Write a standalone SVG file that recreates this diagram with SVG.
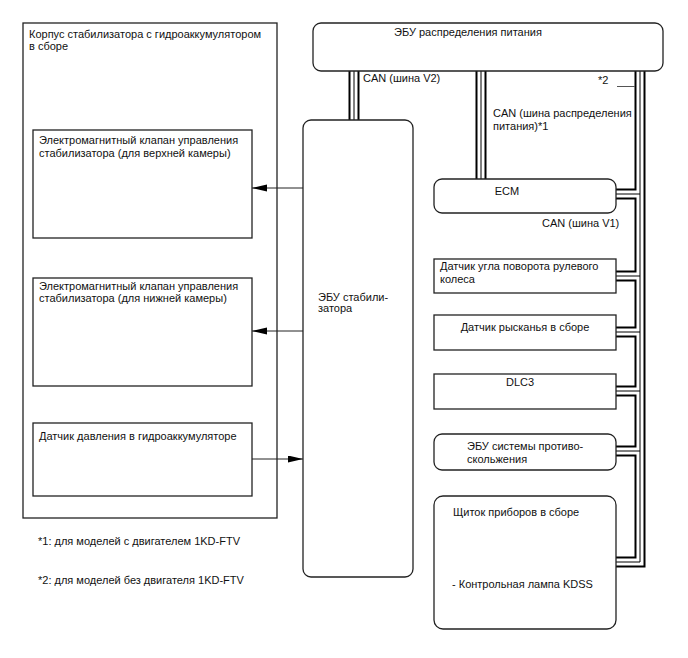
<svg xmlns="http://www.w3.org/2000/svg" width="688" height="658" viewBox="0 0 688 658">
<style>
text{font-family:"Liberation Sans",Arial,sans-serif;font-size:11px;fill:#111}
.box{fill:#fff;stroke:#222;stroke-width:1.3}
.c1{fill:none;stroke:#000;stroke-width:11;stroke-linejoin:miter}
.c2{fill:none;stroke:#fff;stroke-width:7;stroke-linejoin:miter}
.c3{fill:none;stroke:#000;stroke-width:1;stroke-linejoin:miter}
.ar{fill:none;stroke:#222;stroke-width:1}
.mid{text-anchor:middle}
</style>
<defs>
<marker id="ah" markerUnits="userSpaceOnUse" markerWidth="16" markerHeight="8" refX="15" refY="3.5" orient="auto">
<path d="M0,0 L15,3.5 L0,7 z" fill="#000"/>
</marker>
<path id="cv2" d="M354,71 V120"/>
<path id="cpd" d="M481,71 V179"/>
<path id="ctr" d="M640,71 V562 H616"/>
<path id="cb1" d="M616,194 H640"/>
<path id="cb2" d="M616,276 H640"/>
<path id="cb3" d="M616,332 H640"/>
<path id="cb4" d="M616,391 H640"/>
<path id="cb5" d="M616,451 H640"/>
</defs>

<g id="connectors">
<use href="#cv2" class="c1"/><use href="#cpd" class="c1"/><use href="#ctr" class="c1"/>
<use href="#cb1" class="c1"/><use href="#cb2" class="c1"/><use href="#cb3" class="c1"/><use href="#cb4" class="c1"/><use href="#cb5" class="c1"/>
<use href="#cv2" class="c2"/><use href="#cpd" class="c2"/><use href="#ctr" class="c2"/>
<use href="#cb1" class="c2"/><use href="#cb2" class="c2"/><use href="#cb3" class="c2"/><use href="#cb4" class="c2"/><use href="#cb5" class="c2"/>
<use href="#cv2" class="c3"/><use href="#cpd" class="c3"/><use href="#ctr" class="c3"/>
<use href="#cb1" class="c3"/><use href="#cb2" class="c3"/><use href="#cb3" class="c3"/><use href="#cb4" class="c3"/><use href="#cb5" class="c3"/>
<line x1="617" y1="86.5" x2="635" y2="86.5" stroke="#555" stroke-width="1"/>
<line class="ar" x1="303" y1="188" x2="252" y2="188" marker-end="url(#ah)"/>
<line class="ar" x1="303" y1="331" x2="252" y2="331" marker-end="url(#ah)"/>
<line class="ar" x1="252" y1="459" x2="303" y2="459" marker-end="url(#ah)"/>
<text x="363" y="82">CAN (шина V2)</text>
<text x="493" y="117">CAN (шина распределения</text>
<text x="493" y="130">питания)*1</text>
<text x="598" y="84">*2</text>
<text x="542" y="227">CAN (шина V1)</text>
</g>

<g id="stabilizer-housing">
<rect class="box" x="23" y="23" width="254" height="495" style="fill:none"/>
<text x="29" y="38">Корпус стабилизатора с гидроаккумулятором</text>
<text x="29" y="50">в сборе</text>
</g>
<g id="solenoid-upper">
<rect class="box" x="33" y="130" width="219" height="108"/>
<text x="39" y="144">Электромагнитный клапан управления</text>
<text x="39" y="157">стабилизатора (для верхней камеры)</text>
</g>
<g id="solenoid-lower">
<rect class="box" x="33" y="278" width="219" height="108"/>
<text x="39" y="290">Электромагнитный клапан управления</text>
<text x="39" y="302">стабилизатора (для нижней камеры)</text>
</g>
<g id="pressure-sensor">
<rect class="box" x="33" y="423" width="219" height="73"/>
<text x="39" y="440">Датчик давления в гидроаккумуляторе</text>
</g>
<g id="stabilizer-ecu">
<rect class="box" x="303" y="120" width="110" height="457" rx="8"/>
<text x="318" y="301">ЭБУ стабили-</text>
<text x="318" y="312">затора</text>
</g>
<g id="power-dist-ecu">
<rect class="box" x="313" y="23" width="350" height="48" rx="8"/>
<text class="mid" x="468" y="36">ЭБУ распределения питания</text>
</g>
<g id="ecm">
<rect class="box" x="434" y="179" width="182" height="34" rx="8"/>
<text class="mid" x="507" y="195">ECM</text>
</g>
<g id="steering-sensor">
<rect class="box" x="434" y="259" width="182" height="34"/>
<text x="440" y="270">Датчик угла поворота рулевого</text>
<text x="440" y="283">колеса</text>
</g>
<g id="yaw-sensor">
<rect class="box" x="434" y="315" width="182" height="35"/>
<text class="mid" x="525" y="331">Датчик рысканья в сборе</text>
</g>
<g id="dlc3">
<rect class="box" x="434" y="374" width="182" height="35"/>
<text class="mid" x="520" y="386">DLC3</text>
</g>
<g id="skid-ecu">
<rect class="box" x="434" y="434" width="182" height="36" rx="8"/>
<text x="467" y="450">ЭБУ системы противо-</text>
<text x="467" y="463">скольжения</text>
</g>
<g id="instrument-cluster">
<rect class="box" x="434" y="496" width="182" height="133" rx="9"/>
<text x="453" y="516">Щиток приборов в сборе</text>
<text x="452" y="588">- Контрольная лампа KDSS</text>
</g>
<g id="notes">
<text x="38" y="545">*1: для моделей с двигателем 1KD-FTV</text>
<text x="38" y="584">*2: для моделей без двигателя 1KD-FTV</text>
</g>
</svg>
